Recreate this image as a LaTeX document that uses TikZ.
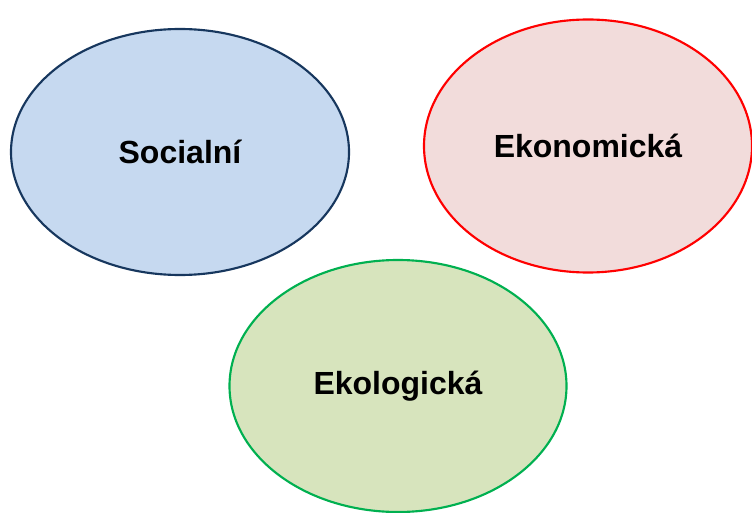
\documentclass[tikz,border=0pt]{standalone}
\usepackage{fontspec}
\setmainfont{Liberation Sans}
\usetikzlibrary{shapes.geometric}
\definecolor{socfill}{HTML}{C6D9F0}
\definecolor{socline}{HTML}{17375E}
\definecolor{ekofill}{HTML}{F2DCDB}
\definecolor{ekoline}{HTML}{FF0000}
\definecolor{ekolfill}{HTML}{D7E4BD}
\definecolor{ekolline}{HTML}{00B050}
\tikzset{
    pillar/.style={ellipse,draw,line width=1.6pt,inner sep=0pt,
        font=\fontsize{24}{28}\selectfont\bfseries}
}
\begin{document}
\begin{tikzpicture}[x=0.75pt,y=-0.75pt]
    \useasboundingbox (0,0) rectangle (752,513);

    \node[pillar,draw=socline,fill=socfill,minimum width=338*0.75pt,minimum height=246*0.75pt]
        (social) at (180,152) {Socialní};
    \node[pillar,draw=ekoline,fill=ekofill,minimum width=328*0.75pt,minimum height=253*0.75pt]
        (econ) at (588,146) {Ekonomická};
    \node[pillar,draw=ekolline,fill=ekolfill,minimum width=337*0.75pt,minimum height=252*0.75pt]
        (ecol) at (398,386) {Ekologická};
\end{tikzpicture}
\end{document}
